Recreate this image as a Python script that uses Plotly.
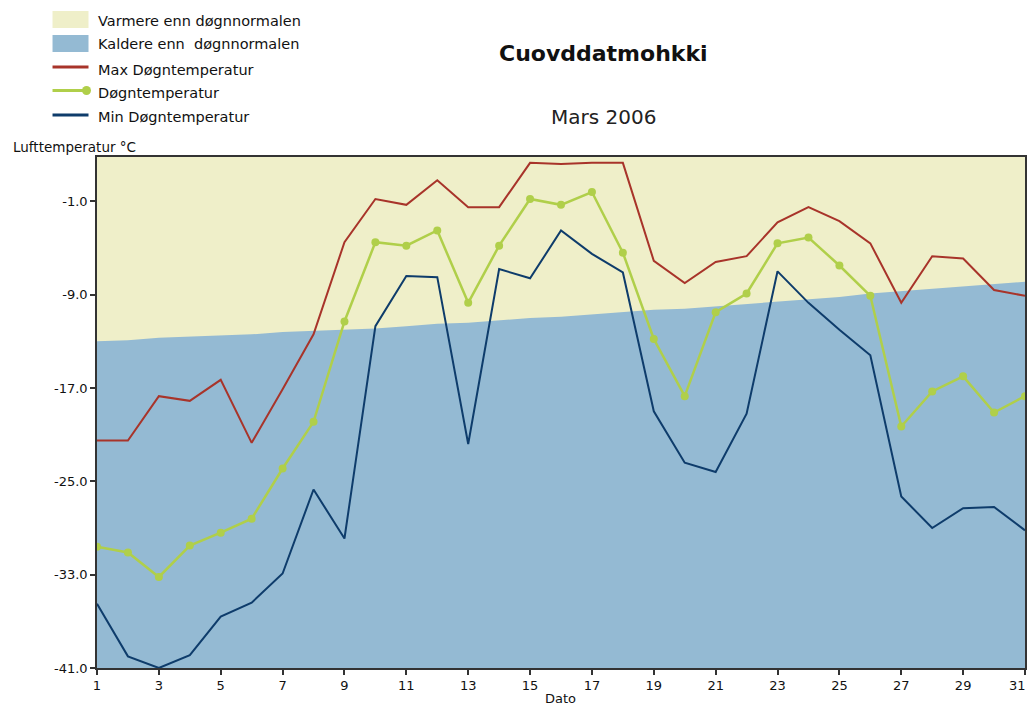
import plotly.graph_objects as go

# ---------------- data ----------------
days = list(range(1, 32))

normal_temp = [-13.0, -12.9, -12.7, -12.6, -12.5, -12.4, -12.2, -12.1, -12.0, -11.9,
               -11.7, -11.5, -11.4, -11.2, -11.0, -10.9, -10.7, -10.5, -10.3, -10.2,
               -10.0, -9.8, -9.6, -9.4, -9.2, -8.9, -8.7, -8.5, -8.3, -8.1, -7.9]

max_temp = [-21.5, -21.5, -17.7, -18.1, -16.3, -21.7, -17.1, -12.4, -4.5, -0.8,
            -1.3, 0.8, -1.5, -1.5, 2.3, 2.2, 2.3, 2.3, -6.1, -8.0,
            -6.2, -5.7, -2.8, -1.5, -2.7, -4.6, -9.7, -5.7, -5.9, -8.6, -9.1]

mean_temp = [-30.6, -31.1, -33.2, -30.5, -29.4, -28.2, -23.9, -19.9, -11.3, -4.5,
             -4.8, -3.5, -9.7, -4.8, -0.8, -1.3, -0.2, -5.4, -12.8, -17.7,
             -10.5, -8.9, -4.6, -4.1, -6.5, -9.1, -20.3, -17.3, -16.0, -19.1, -17.7]

min_temp = [-35.5, -40.0, -41.0, -39.9, -36.6, -35.4, -32.9, -25.7, -29.9, -11.7,
            -7.4, -7.5, -21.8, -6.8, -7.6, -3.5, -5.5, -7.1, -19.0, -23.4,
            -24.2, -19.2, -7.0, -9.7, -12.0, -14.2, -26.3, -29.0, -27.3, -27.2, -29.2]

y_floor = -41.0
y_ceiling = 2.8
ytick_vals = [-41, -33, -25, -17, -9, -1]
ytick_text = ["-41.0", "-33.0", "-25.0", "-17.0", "-9.0", "-1.0"]
xtick_vals = list(range(1, 32, 2))
xtick_labels = [str(v) for v in xtick_vals]
# last label sits flush against the right edge, so it is placed separately
xtick_text = xtick_labels[:-1] + [""]

legend_labels = ["Varmere enn døgnnormalen", "Kaldere enn  døgnnormalen",
                 "Max Døgntemperatur", "Døgntemperatur", "Min Døgntemperatur"]
title_text = "Cuovddatmohkki"
subtitle_text = "Mars 2006"
ylabel_text = "Lufttemperatur °C"
xlabel_text = "Dato"

# ---------------- styles ----------------
C_WARM = "#EFEFC9"
C_COLD = "#94BAD3"
C_MAX = "#A8342A"
C_MEAN = "#B0CF4A"
C_MIN = "#0E3C6B"
C_AXIS = "#333333"
FONT = "DejaVu Sans"

W, H = 1029, 706
L, R, T, B = 96.5, 4, 157, 38
PW, PH = W - L - R, H - T - B


def px(x):
    return (x - L) / PW


def py(y):
    return (H - B - y) / PH


fig = go.Figure()

# floor for the "colder" fill
fig.add_trace(go.Scatter(x=days, y=[y_floor] * len(days), mode="lines",
                         line=dict(width=0, color=C_COLD), showlegend=False,
                         hoverinfo="skip"))
fig.add_trace(go.Scatter(x=days, y=normal_temp, mode="lines", fill="tonexty",
                         fillcolor=C_COLD, line=dict(width=0, color=C_COLD),
                         name=legend_labels[1], showlegend=False))
fig.add_trace(go.Scatter(x=days, y=max_temp, mode="lines",
                         line=dict(width=2, color=C_MAX),
                         name=legend_labels[2], showlegend=False))
fig.add_trace(go.Scatter(x=days, y=mean_temp, mode="lines+markers",
                         line=dict(width=2.5, color=C_MEAN),
                         marker=dict(size=8, color=C_MEAN),
                         name=legend_labels[3], showlegend=False))
fig.add_trace(go.Scatter(x=days, y=min_temp, mode="lines",
                         line=dict(width=2, color=C_MIN),
                         name=legend_labels[4], showlegend=False))

# ---------------- manual legend ----------------
shapes = []
annotations = []
sx0, sx1 = 52, 88
shapes.append(dict(type="rect", xref="paper", yref="paper",
                   x0=px(sx0), x1=px(sx1), y0=py(28), y1=py(11),
                   fillcolor=C_WARM, line=dict(width=0)))
shapes.append(dict(type="rect", xref="paper", yref="paper",
                   x0=px(sx0), x1=px(sx1), y0=py(52), y1=py(35),
                   fillcolor=C_COLD, line=dict(width=0)))
shapes.append(dict(type="line", xref="paper", yref="paper",
                   x0=px(sx0), x1=px(sx1), y0=py(67), y1=py(67),
                   line=dict(color=C_MAX, width=3)))
shapes.append(dict(type="line", xref="paper", yref="paper",
                   x0=px(sx0), x1=px(86), y0=py(90.5), y1=py(90.5),
                   line=dict(color=C_MEAN, width=3)))
shapes.append(dict(type="circle", xref="paper", yref="paper",
                   x0=px(81.5), x1=px(90.5), y0=py(95), y1=py(86),
                   fillcolor=C_MEAN, line=dict(width=0)))
shapes.append(dict(type="line", xref="paper", yref="paper",
                   x0=px(sx0), x1=px(sx1), y0=py(115), y1=py(115),
                   line=dict(color=C_MIN, width=3)))

legend_y = [20.5, 44, 70, 93, 117.5]
for lbl, yy in zip(legend_labels, legend_y):
    annotations.append(dict(text=lbl, xref="paper", yref="paper", x=px(95),
                            y=py(yy), xanchor="left", yanchor="middle",
                            showarrow=False,
                            font=dict(family=FONT, size=14.5, color="#111111")))

annotations.append(dict(text="<b>" + title_text + "</b>", xref="paper", yref="paper",
                        x=px(603), y=py(54), xanchor="center", yanchor="middle",
                        showarrow=False, font=dict(family=FONT, size=22, color="#111111")))
annotations.append(dict(text=subtitle_text, xref="paper", yref="paper",
                        x=px(603), y=py(117), xanchor="center", yanchor="middle",
                        showarrow=False, font=dict(family=FONT, size=20, color="#222222")))
annotations.append(dict(text=ylabel_text, xref="paper", yref="paper",
                        x=px(10), y=py(147), xanchor="left", yanchor="middle",
                        showarrow=False, font=dict(family=FONT, size=13.5, color="#111111")))
annotations.append(dict(text=xlabel_text, xref="paper", yref="paper",
                        x=px(560), y=py(698), xanchor="center", yanchor="middle",
                        showarrow=False, font=dict(family=FONT, size=13, color="#111111")))
# last x tick label, right-aligned to stay inside the picture
annotations.append(dict(text=xtick_labels[-1], xref="x", yref="paper",
                        x=xtick_vals[-1], y=py(685), xanchor="right", yanchor="middle",
                        xshift=2, showarrow=False, borderpad=0,
                        font=dict(family=FONT, size=13, color="#111111")))

fig.update_layout(
    width=W, height=H,
    margin=dict(l=L, r=R, t=T, b=B, pad=0, autoexpand=False),
    paper_bgcolor="white",
    plot_bgcolor=C_WARM,
    showlegend=False,
    font=dict(family=FONT, size=13, color="#111111"),
    shapes=shapes,
    annotations=annotations,
    xaxis=dict(range=[1, 31], tickmode="array", tickvals=xtick_vals, ticktext=xtick_text,
               ticks="outside", ticklen=5, tickwidth=1.5, tickcolor=C_AXIS,
               automargin=False,
               showline=True, linecolor=C_AXIS, linewidth=1.5, mirror=True,
               showgrid=False, zeroline=False,
               tickfont=dict(family=FONT, size=13, color="#111111")),
    yaxis=dict(range=[y_floor, y_ceiling], tickmode="array", tickvals=ytick_vals,
               ticktext=ytick_text, automargin=False,
               ticks="outside", ticklen=5, tickwidth=1.5, tickcolor=C_AXIS,
               showline=True, linecolor=C_AXIS, linewidth=1.5, mirror=True,
               showgrid=False, zeroline=False,
               tickfont=dict(family=FONT, size=13, color="#111111")),
)

fig.write_html("out.html",
               config={"displayModeBar": False},
               post_script="document.body.style.margin='0';document.body.style.overflow='hidden';")
